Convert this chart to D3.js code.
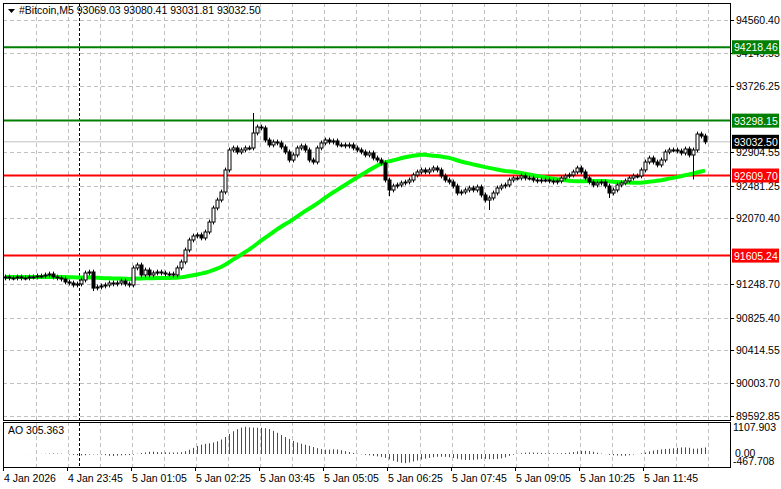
<!DOCTYPE html>
<html><head><meta charset="utf-8">
<script src="https://cdn.jsdelivr.net/npm/d3@7"></script>
<style>body{margin:0;background:#fff}svg{display:block;font-family:"Liberation Sans",Arial,sans-serif}</style>
</head><body><svg id="c" width="781" height="489"></svg>
<script>
const closes = [
91337,91324,91324,91337,91324,91324,91337,91337,91349,91349,91362,91374,91337,91324,91311,91274,91261,91236,91249,91299,
91387,91399,91198,91211,91224,91236,91261,91249,91261,91286,91249,91236,
91450,91487,91362,91424,91362,91387,91399,91387,91374,91374,91362,91450,
91525,91675,91801,91851,91864,91826,91901,92026,92202,92302,92403,92679,
92930,92955,92905,92930,92955,92955,93143,93218,93206,93055,92993,93030,93018,92968,92905,92804,92867,92955,92980,92930,
92804,92779,92955,93018,93055,93030,93043,92993,92993,92980,92993,92955,92930,92905,92867,92892,92829,92804,92767,92553,
92428,92478,92491,92516,92528,92553,92616,92654,92679,92654,92679,92704,92679,92604,92553,92528,92478,92390,92403,92428,
92453,92428,92466,92365,92302,92328,92390,92453,92478,92491,92553,92578,92578,92604,92578,92578,92553,92541,92553,92553,
92541,92528,92541,92578,92604,92616,92654,92704,92654,92578,92528,92491,92516,92528,92478,92390,92428,92491,92516,92541,
92578,92604,92604,92679,92779,92829,92779,92742,92804,92905,92930,92930,92917,92892,92942,92867,92930,93130,93105,93032.5
];
const wickOverrides = [{i:62,h:93394},{i:121,l:92177},{i:151,l:92328},{i:172,l:92560},{i:22,l:91160},{i:96,l:92350}];
const priceTicks = [94560.40,94149.55,93726.25,92904.55,92481.25,92070.40,91248.70,90825.40,90414.55,90003.70,89592.85];
const levels = [{p:94218.46,c:"#007f00",lbl:"94218.46"},{p:93298.15,c:"#007f00",lbl:"93298.15"},{p:92609.70,c:"#ff0000",lbl:"92609.70"},{p:91605.24,c:"#ff0000",lbl:"91605.24"}];
const lastPrice = 93032.50;
const timeLabels = ["4 Jan 2026","4 Jan 23:45","5 Jan 01:05","5 Jan 02:25","5 Jan 03:45","5 Jan 05:05","5 Jan 06:25","5 Jan 07:45","5 Jan 09:05","5 Jan 10:25","5 Jan 11:45"];
const maPeriod = 50;

const svg = d3.select("#c");
const L=3,R=730,T=3,MB=420,AT=422,AB=467;
const n=closes.length;
const x=d3.scaleLinear().domain([0,n-1]).range([5,705]);
const y=d3.scaleLinear().domain([89592.85,94560.40]).range([416,20]);
const bars=closes.map((c,i)=>{const o=i?closes[i-1]:c-12;let h=Math.max(o,c)+30,l=Math.min(o,c)-30;
  const w=wickOverrides.find(d=>d.i===i);if(w){if(w.h)h=w.h;if(w.l)l=w.l;}return {o,c,h,l};});
const g=svg.append("g");
priceTicks.forEach(p=>g.append("line").attr("x1",L).attr("x2",R).attr("y1",Math.round(y(p))+.5).attr("y2",Math.round(y(p))+.5).attr("stroke","#c0c0c0").attr("stroke-dasharray","4,3"));
for(let xx=36;xx<R;xx+=32){[[T,MB],[AT,AB]].forEach(([a,b])=>g.append("line").attr("x1",xx+.5).attr("x2",xx+.5).attr("y1",a).attr("y2",b).attr("stroke","#c0c0c0").attr("stroke-dasharray","4,3"));}
g.append("line").attr("x1",79.5).attr("x2",79.5).attr("y1",T).attr("y2",AB).attr("stroke","#000").attr("stroke-dasharray","3,2");
svg.append("line").attr("x1",L).attr("x2",R).attr("y1",y(lastPrice)).attr("y2",y(lastPrice)).attr("stroke","#c0c0c0");
levels.forEach(d=>svg.append("line").attr("x1",L).attr("x2",R).attr("y1",y(d.p)).attr("y2",y(d.p)).attr("stroke",d.c).attr("stroke-width",2));
const ma=closes.map((_,i)=>{let s=0;for(let j=i-maPeriod+1;j<=i;j++)s+=closes[Math.max(0,j)];return s/maPeriod;});
svg.append("path").attr("d",d3.line().x((d,i)=>x(i)).y(d=>y(d))(ma)).attr("fill","none").attr("stroke","#00ff00").attr("stroke-width",4);
const cg=svg.append("g");
bars.forEach((b,i)=>{const cx=Math.round(x(i))+.5;
  cg.append("line").attr("x1",cx).attr("x2",cx).attr("y1",y(b.h)).attr("y2",y(b.l)).attr("stroke","#000");
  const top=y(Math.max(b.o,b.c)),bot=y(Math.min(b.o,b.c));
  cg.append("rect").attr("x",cx-1.5).attr("y",top).attr("width",3).attr("height",Math.max(1,bot-top)).attr("fill",b.c>=b.o?"#fff":"#000").attr("stroke","#000").attr("stroke-width",1);
});
const med=bars.map(b=>(b.h+b.l)/2);
const sma=(k,i)=>{let s=0;for(let j=i-k+1;j<=i;j++)s+=med[Math.max(0,j)];return s/k;};
const ao=med.map((_,i)=>sma(5,i)-sma(34,i));
const ya=d3.scaleLinear().domain([0,1107.903]).range([454,427]);
ao.forEach((a,i)=>{const cx=Math.round(x(i))+.5;svg.append("line").attr("x1",cx).attr("x2",cx).attr("y1",ya(0)).attr("y2",ya(a)).attr("stroke",i&&a<ao[i-1]?"#ff0000":"#008000");});
svg.append("rect").attr("x",L+.5).attr("y",T+.5).attr("width",R-L).attr("height",MB-T).attr("fill","none").attr("stroke","#000");
svg.append("rect").attr("x",L+.5).attr("y",AT+.5).attr("width",R-L).attr("height",AB-AT).attr("fill","none").attr("stroke","#000");
const fs="10.5px";
priceTicks.forEach(p=>{const yy=Math.round(y(p));svg.append("line").attr("x1",R).attr("x2",R+4).attr("y1",yy+.5).attr("y2",yy+.5).attr("stroke","#000");
  svg.append("text").attr("x",736).attr("y",yy+4).attr("font-size",fs).text(p.toFixed(2));});
levels.concat([{p:lastPrice,c:"#000",lbl:"93032.50"}]).forEach(d=>{const yy=y(d.p);
  svg.append("rect").attr("x",732).attr("y",yy-7).attr("width",47).attr("height",14).attr("fill",d.c);
  svg.append("text").attr("x",734).attr("y",yy+4).attr("font-size",fs).attr("fill","#fff").text(d.lbl);});
svg.append("text").attr("x",733).attr("y",431).attr("font-size",fs).text("1107.903");
svg.append("text").attr("x",735).attr("y",457).attr("font-size",fs).text("0.00");
svg.append("text").attr("x",733).attr("y",465).attr("font-size",fs).text("-467.708");
timeLabels.forEach((t,i)=>{const xx=3+i*64;svg.append("line").attr("x1",xx+.5).attr("x2",xx+.5).attr("y1",AB).attr("y2",AB+4).attr("stroke","#000");
  svg.append("text").attr("x",xx+1).attr("y",482).attr("font-size",fs).text(t);});
svg.append("path").attr("d","M8,9 L15,9 L11.5,13 Z").attr("fill","#000");
svg.append("text").attr("x",19).attr("y",14).attr("font-size",fs).attr("fill","#000").text("#Bitcoin,M5  93069.03 93080.41 93031.81 93032.50");
svg.append("text").attr("x",8).attr("y",434).attr("font-size",fs).text("AO 305.363");
</script></body></html>
